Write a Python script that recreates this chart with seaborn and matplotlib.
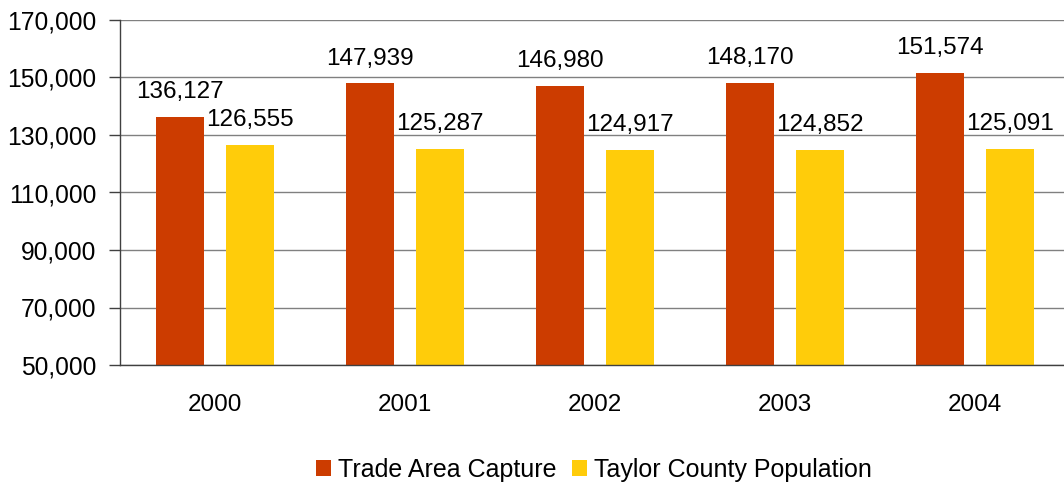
import matplotlib
matplotlib.use('Agg')
import matplotlib.pyplot as plt
import seaborn as sns
import pandas as pd
from matplotlib.ticker import FuncFormatter
from matplotlib.patches import Patch

years = ['2000', '2001', '2002', '2003', '2004']
trade_area = [136127, 147939, 146980, 148170, 151574]
taylor_pop = [126555, 125287, 124917, 124852, 125091]
series_names = ['Trade Area Capture', 'Taylor County Population']
colors = ['#CC3C00', '#FFCC0A']
y_ticks = [50000, 70000, 90000, 110000, 130000, 150000, 170000]

df = pd.DataFrame({
    'Year': years * 2,
    'Value': trade_area + taylor_pop,
    'Series': [series_names[0]] * len(years) + [series_names[1]] * len(years),
})

sns.set_theme(style='white')
plt.rcParams['font.family'] = ['Liberation Sans', 'DejaVu Sans']
plt.rcParams['text.color'] = '#000000'
plt.rcParams['axes.labelcolor'] = '#000000'

fig = plt.figure(figsize=(10.64, 4.86), dpi=100)
ax = fig.add_axes([120 / 1064, (486 - 365) / 486, 950 / 1064, 345 / 486])
sns.barplot(data=df, x='Year', y='Value', hue='Series', palette=colors,
            width=0.737, gap=0.314, saturation=1, ax=ax, legend=False,
            linewidth=0, errorbar=None)

ax.set_ylim(50000, 170000)
ax.set_xlim(-0.5, len(years) - 0.5)
ax.set_yticks(y_ticks)
ax.yaxis.set_major_formatter(FuncFormatter(lambda v, p: f'{v:,.0f}'))
ax.set_xticks(range(len(years)))
ax.set_xticklabels(years)
ax.set_xticks([i - 0.5 for i in range(len(years) + 1)], minor=True)
ax.tick_params(axis='x', which='major', length=0, pad=21, labelsize=17.5, labelcolor='#000000')
ax.tick_params(axis='x', which='minor', length=7, width=1, color='#404040', direction='out')
ax.tick_params(axis='y', length=8, width=1, color='#404040', direction='out', pad=9,
               labelsize=17.7, left=True, labelcolor='#000000')
ax.set_xlabel('')
ax.set_ylabel('')
ax.grid(axis='y', color='#808080', linewidth=1)
ax.set_axisbelow(True)
for s in ['top', 'right']:
    ax.spines[s].set_visible(False)
for s in ['left', 'bottom']:
    ax.spines[s].set_color('#404040')
    ax.spines[s].set_linewidth(1)
    ax.spines[s].set_zorder(5)

for cont in ax.containers:
    ax.bar_label(cont, labels=[f'{b.get_height():,.0f}' for b in cont],
                 padding=10, fontsize=17.5, color='#000000')

handles = [Patch(facecolor=c, edgecolor='none') for c in colors]
fig.legend(handles, series_names, loc='center', bbox_to_anchor=(0.558, 0.033),
           ncol=2, frameon=False, fontsize=18, handlelength=0.6, handleheight=0.6,
           handletextpad=0.28, columnspacing=0.64, labelcolor='#000000')

fig.savefig('out.png', dpi=100)
